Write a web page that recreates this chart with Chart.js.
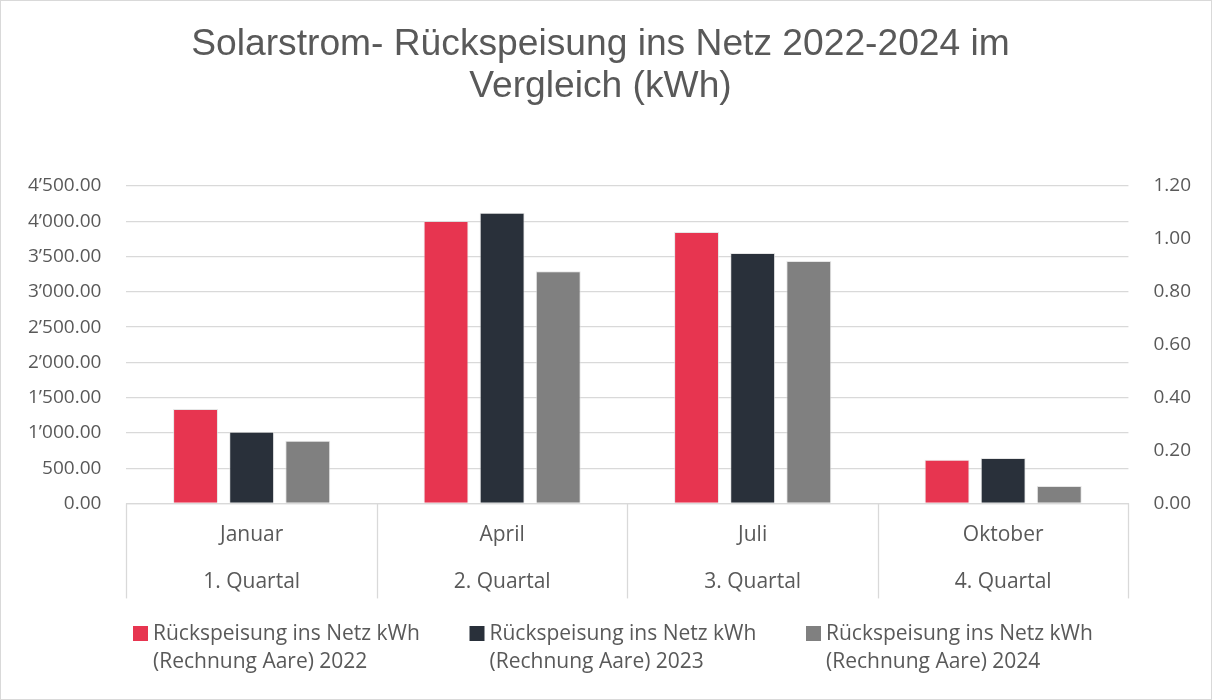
<!DOCTYPE html>
<html>
<head>
<meta charset="utf-8">
<script src="https://cdn.jsdelivr.net/npm/chart.js@4"></script>
<style>
  html, body { margin: 0; padding: 0; background: #fff; }
  #wrap { width: 1212px; height: 700px; box-sizing: border-box; border: 1px solid #d9d9d9; }
  #wrap canvas { display: block; }
</style>
</head>
<body>
<div id="wrap"><canvas id="barChart" width="1210" height="698"></canvas></div>
<script>
const months = ["Januar", "April", "Juli", "Oktober"];
const quarters = ["1. Quartal", "2. Quartal", "3. Quartal", "4. Quartal"];
const seriesNames = [
  ["Rückspeisung ins Netz kWh", "(Rechnung Aare) 2022"],
  ["Rückspeisung ins Netz kWh", "(Rechnung Aare) 2023"],
  ["Rückspeisung ins Netz kWh", "(Rechnung Aare) 2024"]
];
const values2022 = [1338, 4005, 3849, 620];
const values2023 = [1017, 4123, 3551, 644];
const values2024 = [889, 3292, 3438, 248];
const colors = ["#E73550", "#29303A", "#808080"];

const textColor = "#595959";
const gridColor = "#d9d9d9";

function swissNumber(v) {
  const parts = Number(v).toFixed(2).split(".");
  return parts[0].replace(/\B(?=(\d{3})+(?!\d))/g, "\u2019") + "." + parts[1];
}

// title sits a bit left of the canvas centre in the original
const titleNudge = {
  id: "titleNudge",
  afterLayout(chart) {
    if (chart.titleBlock) {
      chart.titleBlock.left -= 9;
      chart.titleBlock.right -= 9;
    }
  }
};

// separators of the two-level category axis
const categoryBoxes = {
  id: "categoryBoxes",
  afterDraw(chart) {
    const x = chart.scales.x;
    const ctx = chart.ctx;
    const top = chart.chartArea.bottom;
    const half = (x.getPixelForValue(1) - x.getPixelForValue(0)) / 2;
    ctx.save();
    ctx.strokeStyle = gridColor;
    ctx.lineWidth = 1.3;
    for (let i = 0; i <= months.length; i++) {
      const px = Math.round(x.getPixelForValue(i) - half) + 0.5;
      ctx.beginPath();
      ctx.moveTo(px, top);
      ctx.lineTo(px, top + 95);
      ctx.stroke();
    }
    ctx.restore();
  }
};

// legend drawn by hand: two-line labels
const twoLineLegend = {
  id: "twoLineLegend",
  afterDraw(chart) {
    const ctx = chart.ctx;
    ctx.save();
    ctx.font = "21px 'Open Sans'";
    ctx.textBaseline = "middle";
    ctx.textAlign = "left";
    chart.data.datasets.forEach((ds, i) => {
      const x = 132 + i * 336.5;
      ctx.fillStyle = ds.backgroundColor;
      ctx.fillRect(x, 625, 15, 15);
      ctx.fillStyle = textColor;
      seriesNames[i].forEach((line, j) => {
        ctx.fillText(line, x + 20, 633 + j * 28);
      });
    });
    ctx.restore();
  }
};

const datasetValues = [values2022, values2023, values2024];

new Chart(document.getElementById("barChart"), {
  type: "bar",
  data: {
    labels: months.map((m, i) => [m, quarters[i]]),
    datasets: datasetValues.map((vals, i) => ({
      label: seriesNames[i].join(" "),
      data: vals,
      backgroundColor: colors[i],
      borderColor: "rgba(220,220,220,0.7)",
      borderWidth: 1,
      yAxisID: "y",
      categoryPercentage: 0.672,
      barPercentage: 0.8
    }))
  },
  options: {
    responsive: false,
    animation: false,
    layout: {
      padding: { top: 23, left: 2, right: -5, bottom: 85.5 }
    },
    plugins: {
      legend: { display: false },
      tooltip: { enabled: false },
      title: {
        display: true,
        text: ["Solarstrom- Rückspeisung ins Netz 2022-2024 im", "Vergleich (kWh)"],
        color: textColor,
        font: { family: "'Liberation Sans', Arial, sans-serif", size: 37.2, weight: "normal", lineHeight: 1.13 },
        padding: { top: 0, bottom: 78 }
      }
    },
    scales: {
      x: {
        border: { display: true, color: gridColor, width: 1.3 },
        grid: { display: false, drawTicks: false },
        ticks: {
          color: textColor,
          padding: 8,
          maxRotation: 0,
          autoSkip: false,
          font: { family: "'Open Sans'", size: 21, lineHeight: 2.24 }
        }
      },
      y: {
        position: "left",
        min: 0,
        max: 4500,
        border: { display: false },
        grid: { color: gridColor, lineWidth: 1.3, drawTicks: false },
        ticks: {
          stepSize: 500,
          color: textColor,
          padding: 25,
          font: { family: "'Open Sans'", size: 19 },
          callback: (v) => swissNumber(v)
        }
      },
      y2: {
        position: "right",
        display: true,
        min: 0,
        max: 1.2,
        border: { display: false },
        grid: { display: false, drawTicks: false },
        ticks: {
          stepSize: 0.2,
          color: textColor,
          padding: 25,
          font: { family: "'Open Sans'", size: 19 },
          callback: (v) => Number(v).toFixed(2)
        }
      }
    }
  },
  plugins: [titleNudge, categoryBoxes, twoLineLegend]
});
</script>
</body>
</html>
